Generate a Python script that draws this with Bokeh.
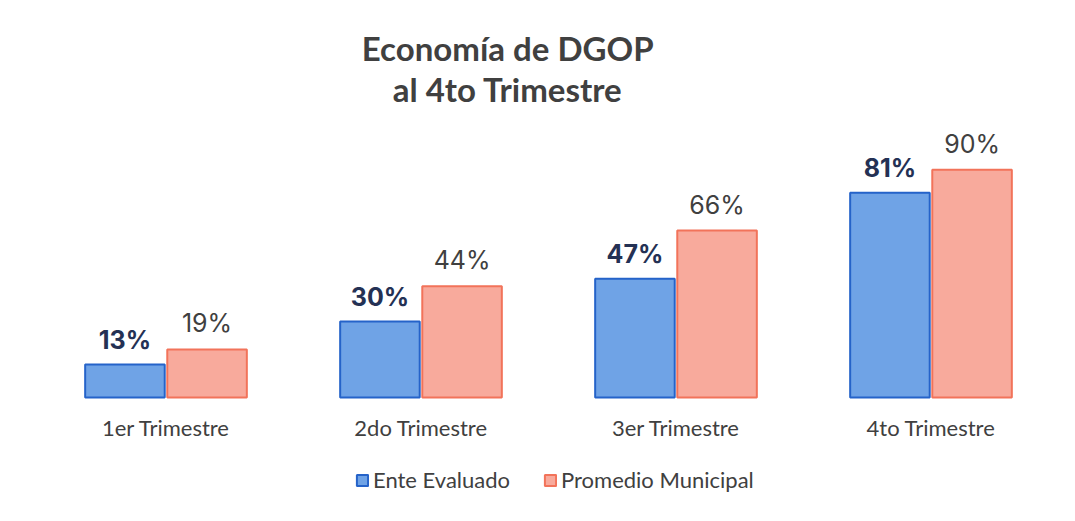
from bokeh.plotting import figure
from bokeh.models import ColumnDataSource, FactorRange, Range1d, Legend, LegendItem, Label
from bokeh.transform import dodge
from bokeh.core.properties import value
from bokeh.embed import file_html
from bokeh.resources import INLINE

categories = ["1er Trimestre", "2do Trimestre", "3er Trimestre", "4to Trimestre"]
ente_evaluado = [13, 30, 47, 81]
promedio_municipal = [19, 44, 66, 90]
series_names = ["Ente Evaluado", "Promedio Municipal"]
title_lines = ["Economía de DGOP", "al 4to Trimestre"]

src = ColumnDataSource(dict(
    cat=categories,
    base=[0] * len(categories),
    ente=ente_evaluado,
    prom=promedio_municipal,
    ente_lbl=[f"{v}%" for v in ente_evaluado],
    prom_lbl=[f"{v}%" for v in promedio_municipal],
))

p = figure(frame_width=1020, frame_height=497, output_backend="svg", toolbar_location=None,
           x_range=FactorRange(factors=categories, range_padding=0),
           y_range=Range1d(-42.7, 153.8),
           min_border_left=38, min_border_right=0, min_border_top=8, min_border_bottom=0)
p.title = None
p.outline_line_color = None
p.background_fill_color = "white"
p.border_fill_color = "white"
p.xgrid.visible = False
p.ygrid.visible = False
p.yaxis.visible = False
p.xaxis.visible = False

w = 0.312
r1 = p.vbar(x=dodge("cat", -0.161, range=p.x_range), top="ente", width=w, source=src,
            fill_color="#6FA3E6", line_color="#2563C9", line_width=2)
r2 = p.vbar(x=dodge("cat", 0.161, range=p.x_range), top="prom", width=w, source=src,
            fill_color="#F8AA9C", line_color="#F2735A", line_width=2)

# category labels (x axis)
p.text(x="cat", y="base", text="cat", source=src, y_offset=30,
       text_align="center", text_baseline="middle",
       text_font=value("Lato"), text_font_size="22px", text_color="#404040")

p.text(x=dodge("cat", -0.161, range=p.x_range), y="ente", text="ente_lbl", source=src,
       y_offset=-25, text_align="center", text_baseline="middle",
       text_font=value("Inter"), text_font_style="bold", text_font_size="25px",
       text_color="#243154")
p.text(x=dodge("cat", 0.161, range=p.x_range), y="prom", text="prom_lbl", source=src,
       y_offset=-26, text_align="center", text_baseline="middle",
       text_font=value("Inter"), text_font_size="25px", text_color="#404040")

for txt, yy in zip(title_lines, [138.0, 122.1]):
    p.add_layout(Label(x=1.84, y=yy, text=txt, text_align="center", text_baseline="middle",
                       text_font="Lato", text_font_style="bold", text_font_size="33px",
                       text_color="#404040"))

legend = Legend(items=[LegendItem(label=series_names[0], renderers=[r1]),
                       LegendItem(label=series_names[1], renderers=[r2])],
                orientation="horizontal", location=(317, 12),
                label_text_font="Lato", label_text_font_size="22px", label_text_color="#404040",
                glyph_width=14, glyph_height=14, spacing=33, margin=0, padding=0,
                border_line_color=None, background_fill_alpha=0, label_standoff=4)
p.add_layout(legend)

open("out.html", "w").write(file_html(p, INLINE))
